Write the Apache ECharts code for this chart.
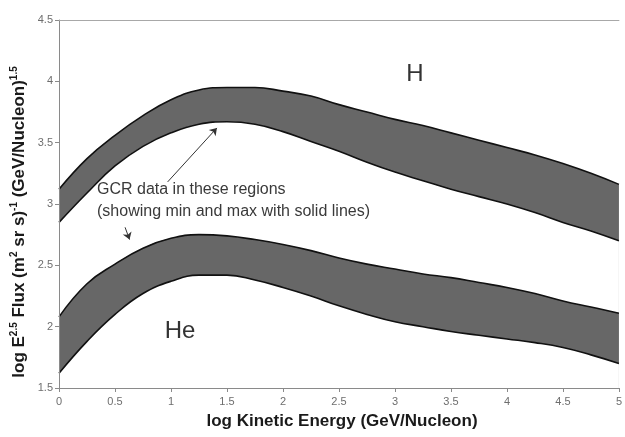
<!DOCTYPE html>
<html>
<head>
<meta charset="utf-8">
<script src="https://cdn.jsdelivr.net/npm/echarts@6/dist/echarts.min.js"></script>
<style>
  html, body { margin: 0; padding: 0; background: #fff; }
  #chart { width: 625px; height: 437px; }
</style>
</head>
<body>
<div id="chart"></div>
<script>
// log kinetic energy (GeV/nucleon) sample points
const energy = [0, 0.25, 0.5, 0.75, 1, 1.25, 1.5, 1.75, 2, 2.25, 2.5, 2.75, 3, 3.25, 3.5, 3.75, 4, 4.25, 4.5, 4.75, 5];
// hydrogen flux band: max and min envelopes
const hMax  = [3.12, 3.37, 3.56, 3.72, 3.85, 3.93, 3.95, 3.95, 3.92, 3.88, 3.81, 3.75, 3.69, 3.64, 3.58, 3.52, 3.46, 3.40, 3.33, 3.25, 3.16];
const hMin  = [2.85, 3.09, 3.31, 3.47, 3.58, 3.65, 3.67, 3.65, 3.59, 3.51, 3.43, 3.34, 3.26, 3.19, 3.12, 3.06, 3.00, 2.93, 2.85, 2.78, 2.70];
// helium flux band: max and min envelopes
const heMax = [2.08, 2.35, 2.51, 2.64, 2.72, 2.75, 2.74, 2.71, 2.67, 2.62, 2.56, 2.51, 2.47, 2.43, 2.40, 2.36, 2.32, 2.27, 2.21, 2.16, 2.11];
const heMin = [1.62, 1.88, 2.10, 2.27, 2.37, 2.42, 2.42, 2.38, 2.32, 2.25, 2.17, 2.10, 2.04, 2.00, 1.96, 1.93, 1.90, 1.87, 1.83, 1.77, 1.70];

const xTicks = { min: 0, max: 5, interval: 0.5 };
const yTicks = { min: 1.5, max: 4.5, interval: 0.5 };

const bandFill = '#676767';
const edge = { color: '#111', width: 1.6 };

// Each band is painted as a grey area under its max curve, then a white
// area under its min curve, which leaves only the region between them grey.
function envelope(name, values, fill) {
  return {
    name: name, type: 'line', smooth: 0.45, symbol: 'none',
    lineStyle: edge,
    areaStyle: { color: fill, opacity: 1, origin: 'start' },
    data: energy.map((x, i) => [x, values[i]])
  };
}

const chart = echarts.init(document.getElementById('chart'), null, { renderer: 'canvas' });

const axisGray = '#8a8a8a';
const labelStyle = { color: '#6e6e6e', fontSize: 11, fontFamily: 'Liberation Sans, Arial, sans-serif' };

const arrowSeries = {
  name: 'notes', type: 'line', data: [], symbol: 'none', z: 20,
  markLine: {
    silent: true, animation: false,
    symbol: ['none', 'arrow'], symbolSize: 7,
    lineStyle: { color: '#333', width: 1, type: 'solid' },
    label: { show: false },
    data: [
      [{ coord: [0.97, 3.18] }, { coord: [1.41, 3.62] }],
      [{ coord: [0.59, 2.81] }, { coord: [0.63, 2.71] }]
    ]
  }
};

const option = {
  animation: false,
  backgroundColor: '#fff',
  grid: { left: 59, right: 2, top: 20, bottom: 49, containLabel: false },
  xAxis: [
    {
      type: 'value', min: xTicks.min, max: xTicks.max, interval: xTicks.interval, z: 30,
      axisLine: { lineStyle: { color: axisGray, width: 1 } },
      axisTick: { show: true, length: 4, lineStyle: { color: axisGray } },
      axisLabel: Object.assign({ margin: 8 }, labelStyle),
      splitLine: { show: false }
    },
    {
      type: 'value', position: 'top', min: xTicks.min, max: xTicks.max, z: 30,
      axisLine: { show: true, lineStyle: { color: '#a8a8a8', width: 1 } },
      axisTick: { show: false }, axisLabel: { show: false }, splitLine: { show: false }
    }
  ],
  yAxis: {
    type: 'value', min: yTicks.min, max: yTicks.max, interval: yTicks.interval, z: 30,
    axisLine: { show: true, lineStyle: { color: axisGray, width: 1 } },
    axisTick: { show: true, length: 4, lineStyle: { color: axisGray } },
    axisLabel: Object.assign({ margin: 6 }, labelStyle),
    splitLine: { show: false }
  },
  series: [
    envelope('H max', hMax, bandFill),
    envelope('H min', hMin, '#ffffff'),
    envelope('He max', heMax, bandFill),
    envelope('He min', heMin, '#ffffff'),
    arrowSeries
  ],
  graphic: [
    {
      type: 'text', x: 342, y: 421, z: 50,
      style: {
        text: 'log Kinetic Energy (GeV/Nucleon)',
        font: 'bold 17px "Liberation Sans", Arial, sans-serif',
        fill: '#1a1a1a', align: 'center', verticalAlign: 'middle'
      }
    },
    {
      type: 'text', x: 19, y: 222, rotation: Math.PI / 2, z: 50,
      style: {
        text: '{b|log E}{s|2.5}{b| Flux (m}{s|2}{b| sr s)}{s|-1}{b| (GeV/Nucleon)}{s|1.5}',
        align: 'center', verticalAlign: 'middle', fill: '#1a1a1a',
        rich: {
          b: { font: 'bold 17px "Liberation Sans", Arial, sans-serif', fill: '#1a1a1a', lineHeight: 20 },
          s: { font: 'bold 10px "Liberation Sans", Arial, sans-serif', fill: '#1a1a1a', padding: [0, 0, 10, 0], lineHeight: 20 }
        }
      }
    },
    {
      type: 'text', x: 415, y: 74, z: 50,
      style: { text: 'H', font: '24px "Liberation Sans", Arial, sans-serif', fill: '#333', align: 'center', verticalAlign: 'middle' }
    },
    {
      type: 'text', x: 180, y: 331, z: 50,
      style: { text: 'He', font: '24px "Liberation Sans", Arial, sans-serif', fill: '#333', align: 'center', verticalAlign: 'middle' }
    },
    {
      type: 'text', x: 97, y: 190, z: 50,
      style: { text: 'GCR data in these regions', font: '16px "Liberation Sans", Arial, sans-serif', fill: '#3a3a3a', align: 'left', verticalAlign: 'middle' }
    },
    {
      type: 'text', x: 97, y: 212, z: 50,
      style: { text: '(showing min and max with solid lines)', font: '16px "Liberation Sans", Arial, sans-serif', fill: '#3a3a3a', align: 'left', verticalAlign: 'middle' }
    }
  ]
};

chart.setOption(option);
</script>
</body>
</html>
